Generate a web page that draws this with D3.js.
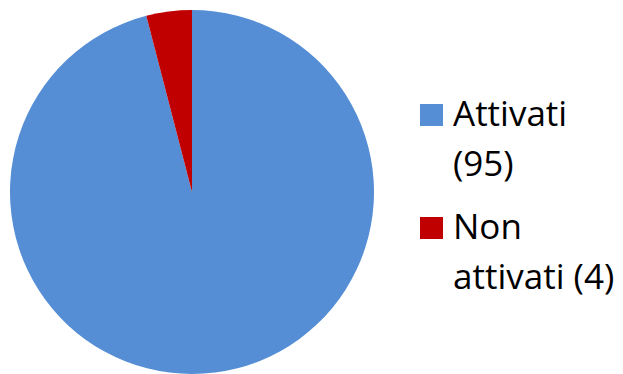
<!DOCTYPE html>
<html>
<head>
<meta charset="utf-8">
<script src="https://cdn.jsdelivr.net/npm/d3@7/dist/d3.min.js"></script>
<style>
  html, body { margin: 0; padding: 0; background: #fff; }
  svg { display: block; }
</style>
</head>
<body>
<svg id="chart" width="623" height="374"></svg>
<script>
// Slice data
const categories = ["Attivati", "Non attivati"];
const values = [95, 4];
const colors = ["#558ED5", "#C00000"];
// Legend text, split into lines as wrapped
const legendLines = [["Attivati", "(95)"], ["Non", "attivati (4)"]];

const svg = d3.select("#chart");
const cx = 192, cy = 192, r = 182;

// Clockwise from twelve o'clock, in data order
const pie = d3.pie().sort(null).value(d => d)
  .startAngle(0).endAngle(2 * Math.PI);
const arc = d3.arc().innerRadius(0).outerRadius(r);

const g = svg.append("g").attr("transform", `translate(${cx},${cy})`);
g.selectAll("path")
  .data(pie(values))
  .join("path")
  .attr("d", arc)
  .attr("fill", (d, i) => colors[i]);

// Legend
const legend = svg.append("g").attr("transform", "translate(420,0)");
const entryY = [104, 217];
categories.forEach((c, i) => {
  const e = legend.append("g").attr("transform", `translate(0,${entryY[i]})`);
  e.append("rect").attr("width", 23).attr("height", 22).attr("fill", colors[i]);
  const t = e.append("text")
    .attr("font-family", "'Open Sans', sans-serif")
    .attr("font-size", 35)
    .attr("fill", "#000");
  legendLines[i].forEach((line, j) => {
    t.append("tspan").attr("x", 33).attr("y", 22 + j * 50).text(line);
  });
});
</script>
</body>
</html>
